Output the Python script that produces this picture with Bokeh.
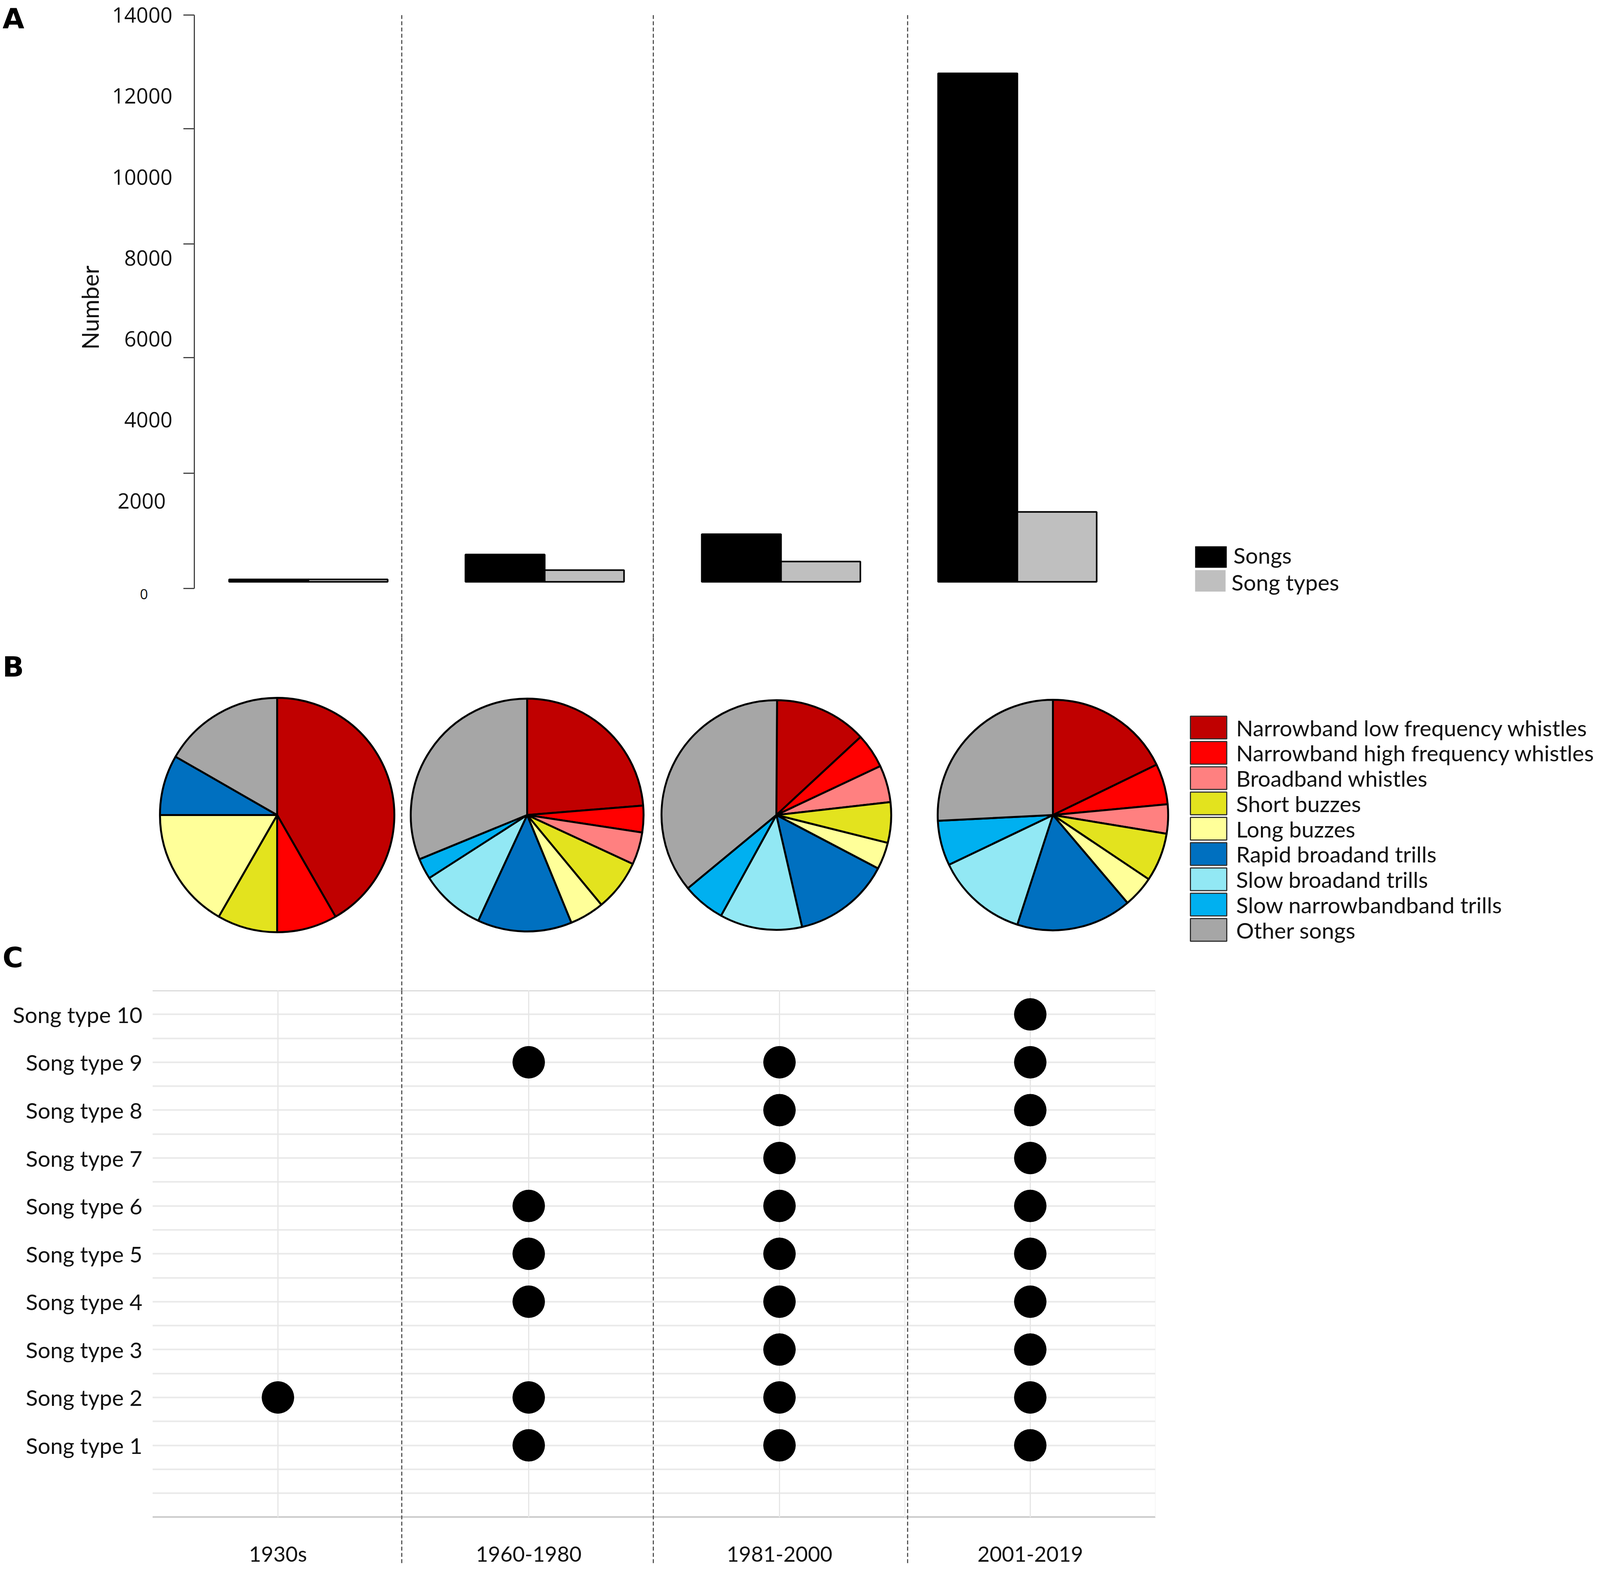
"""
Song types through time: counts (A), song classes (B) and occurrence of song types (C).
"""

from math import pi

from bokeh.core.properties import value
from bokeh.embed import file_html
from bokeh.layouts import column, row
from bokeh.models import ColumnDataSource, FactorRange, FixedTicker, Label, Range1d, Span
from bokeh.plotting import figure
from bokeh.resources import INLINE

PERIODS = ["1930s", "1960-1980", "1981-2000", "2001-2019"]

# panel A
SONG_COUNTS = [60, 675, 1177, 12560]
SONG_TYPE_COUNTS = [60, 290, 502, 1727]
NUMBER_LABELS = [2000, 4000, 6000, 8000, 10000, 12000, 14000]
NUMBER_TICK_MARKS = [-164, 2682, 5538, 8346, 11193, 14000]

# panel B, percent of each class per period
CLASS_NAMES = [
    "Narrowband low frequency whistles",
    "Narrowband high frequency whistles",
    "Broadband whistles",
    "Short buzzes",
    "Long buzzes",
    "Rapid broadand trills",
    "Slow broadand trills",
    "Slow narrowbandband trills",
    "Other songs",
]
CLASS_COLORS = ["#c00000", "#ff0000", "#ff8080", "#e3e31e", "#ffff99",
                "#0070c0", "#92e8f4", "#00b0f0", "#a6a6a6"]
SHARES_1930S = [41.7, 8.3, 0, 8.3, 16.7, 8.3, 0, 0, 16.7]
SHARES_1960 = [23.7, 3.7, 4.5, 7.1, 4.8, 13.1, 9.0, 2.9, 31.2]
SHARES_1981 = [13.1, 4.9, 5.2, 5.7, 3.8, 13.7, 11.6, 6.0, 36.1]
SHARES_2001 = [17.8, 5.7, 4.1, 6.8, 4.4, 16.2, 12.9, 6.3, 25.8]

# panel C, which song types were recorded in each period
SONG_TYPES = [f"Song type {i}" for i in range(1, 11)]
TYPES_1930S = [2]
TYPES_1960 = [1, 2, 4, 5, 6, 9]
TYPES_1981 = [1, 2, 3, 4, 5, 6, 7, 8, 9]
TYPES_2001 = [1, 2, 3, 4, 5, 6, 7, 8, 9, 10]

# layout, in pixels of the 4135x4032 picture
PAGE_MARGIN = 8
PAGE_WIDTH = 4135 - 2 * PAGE_MARGIN
SEPARATORS = [1036, 1680, 2331]
A_LABELS_RIGHT, A_LEFT, A_TOP, A_BOTTOM, A_BASE = 477, 505, 46, 1640, 1497
A_GROUP_0, A_GROUP_STEP = 797, 605
A_PX_PER_UNIT = (A_BASE - A_TOP) / 14000
B_BOTTOM = 2543
PIE_X = [717, 1357, 1995, 2703]
PIE_Y = 2094
PIE_R = [300, 298, 294, 295]
KEY_B_LEFT, KEY_B_RIGHT, KEY_B_TEXT = 3055, 3148, 3172
KEY_B_FIRST_ROW, KEY_B_PITCH, KEY_B_HEIGHT = 1870, 64.75, 58
C_LEFT, C_RIGHT, C_BOTTOM = 398, 2966, 4014
C_STEP = (C_RIGHT - C_LEFT) / len(PERIODS)

TEXT_COLOR = "#111111"
TEXT_FONT = "Lato"
NUMBER_FONT = "Open Sans"
DASH_COLOR = "#555555"
KEY_FONT_SIZE = "57px"


def separators(p, positions):
    for x in positions:
        p.add_layout(Span(location=x, dimension="height", line_color=DASH_COLOR,
                          line_width=3, line_dash="10 6"))


def panel_letter(p, letter, x, y):
    p.add_layout(Label(x=x, y=y, text=letter, text_font="DejaVu Sans", text_font_style="bold",
                       text_font_size="72px", text_color="black", text_align="left",
                       text_baseline="middle"))


def a_x(px):
    return (px - A_GROUP_0) / A_GROUP_STEP


def a_y(px):
    return (A_BASE - px) / A_PX_PER_UNIT


# --- panel A, strip left of the axis: its number labels, title and letter ---
pl = figure(width=A_LABELS_RIGHT - PAGE_MARGIN, height=A_BOTTOM - PAGE_MARGIN, output_backend="svg",
            toolbar_location=None, x_axis_location=None, y_axis_location=None, frame_align=False,
            x_range=Range1d(PAGE_MARGIN, A_LABELS_RIGHT),
            y_range=Range1d(a_y(A_BOTTOM), a_y(PAGE_MARGIN)),
            min_border_left=0, min_border_right=0, min_border_top=0, min_border_bottom=0)
pl.grid.visible = False
pl.outline_line_color = None
for v in NUMBER_LABELS:
    # the 2000 sits a little left of the others in the original
    right_edge = 432 if v == 2000 else 449
    pl.add_layout(Label(x=right_edge, y=v, text=str(v), text_font=NUMBER_FONT,
                        text_font_size="54px", text_color=TEXT_COLOR, text_align="right",
                        text_baseline="middle"))
pl.add_layout(Label(x=376, y=a_y(1528), text="0", text_font=NUMBER_FONT,
                    text_font_size="36px", text_color=TEXT_COLOR, text_align="center",
                    text_baseline="middle"))
pl.add_layout(Label(x=237, y=a_y(795), text="Number", text_font=TEXT_FONT, angle=pi / 2,
                    text_font_size="60px", text_color=TEXT_COLOR, text_align="center",
                    text_baseline="middle"))
panel_letter(pl, "A", 14, a_y(54))

# --- panel A, bars ---
pa = figure(width=PAGE_MARGIN + PAGE_WIDTH - A_LABELS_RIGHT, height=A_BOTTOM - PAGE_MARGIN,
            output_backend="svg", toolbar_location=None, x_axis_location=None, frame_align=False,
            x_range=Range1d(a_x(A_LEFT), a_x(PAGE_MARGIN + PAGE_WIDTH)),
            y_range=Range1d(a_y(A_BOTTOM), 14000),
            min_border_left=A_LEFT - A_LABELS_RIGHT, min_border_right=0,
            min_border_top=A_TOP - PAGE_MARGIN, min_border_bottom=0)
pa.grid.visible = False
pa.outline_line_color = None

bar_width = 203 / A_GROUP_STEP
groups = list(range(len(PERIODS)))
pa.vbar(x=[g - bar_width / 2 for g in groups], top=SONG_COUNTS, bottom=0,
        width=bar_width, fill_color="black", line_color="black", line_width=4)
pa.vbar(x=[g + bar_width / 2 for g in groups], top=SONG_TYPE_COUNTS, bottom=0,
        width=bar_width, fill_color="#bfbfbf", line_color="black", line_width=4)

yaxis = pa.yaxis[0]
yaxis.ticker = FixedTicker(ticks=NUMBER_TICK_MARKS)
yaxis.bounds = (NUMBER_TICK_MARKS[0], NUMBER_TICK_MARKS[-1])
yaxis.major_label_overrides = {v: "" for v in NUMBER_TICK_MARKS}
yaxis.major_label_text_font_size = "0px"
yaxis.major_label_standoff = 0
yaxis.major_tick_in = 0
yaxis.major_tick_out = 28
yaxis.minor_tick_line_color = None
yaxis.major_tick_line_color = "#444444"
yaxis.major_tick_line_width = 3
yaxis.axis_line_color = "#444444"
yaxis.axis_line_width = 3

# key of panel A
pa.quad(left=[a_x(3067)] * 2, right=[a_x(3148), a_x(3145)],
        top=[a_y(1406), a_y(1467)], bottom=[a_y(1461), a_y(1522)],
        fill_color=["black", "#bfbfbf"], line_color=None)
pa.text(x=[a_x(3165), a_x(3160)], y=[a_y(1428), a_y(1497)], text=["Songs", "Song types"],
        text_font=value(TEXT_FONT), text_font_size=KEY_FONT_SIZE, text_color=TEXT_COLOR,
        text_baseline="middle")
separators(pa, [a_x(x) for x in SEPARATORS])

# --- panel B ---
pb = figure(width=PAGE_WIDTH, height=B_BOTTOM - A_BOTTOM, output_backend="svg",
            toolbar_location=None, x_axis_location=None, y_axis_location=None, frame_align=False,
            x_range=Range1d(PAGE_MARGIN, PAGE_MARGIN + PAGE_WIDTH),
            y_range=Range1d(0, B_BOTTOM - A_BOTTOM),
            min_border_left=0, min_border_right=0, min_border_top=0, min_border_bottom=0)
pb.grid.visible = False
pb.outline_line_color = None

all_shares = [SHARES_1930S, SHARES_1960, SHARES_1981, SHARES_2001]
angle_start = [pi / 2] * len(all_shares)
for k, name in enumerate(CLASS_NAMES):
    shares = [s[k] for s in all_shares]
    angle_end = [a - v / 100 * 2 * pi for a, v in zip(angle_start, shares)]
    # a slice of nothing would be drawn as a whole circle
    keep = [i for i, v in enumerate(shares) if v > 0]
    source = ColumnDataSource(data={
        "x": [PIE_X[i] for i in keep],
        "y": [B_BOTTOM - PIE_Y] * len(keep),
        "r": [PIE_R[i] for i in keep],
        "start": [angle_start[i] for i in keep],
        "end": [angle_end[i] for i in keep],
    })
    pb.wedge("x", "y", radius="r", start_angle="start", end_angle="end", direction="clock",
             source=source, fill_color=CLASS_COLORS[k], line_color="black", line_width=5)
    angle_start = angle_end

# key of panel B
key_rows = [B_BOTTOM - (KEY_B_FIRST_ROW + i * KEY_B_PITCH) for i in range(len(CLASS_NAMES))]
pb.quad(left=[KEY_B_LEFT] * len(key_rows), right=[KEY_B_RIGHT] * len(key_rows),
        top=[y + KEY_B_HEIGHT / 2 for y in key_rows], bottom=[y - KEY_B_HEIGHT / 2 for y in key_rows],
        fill_color=CLASS_COLORS, line_color="#333333", line_width=3)
pb.text(x=[KEY_B_TEXT] * len(key_rows), y=key_rows, text=CLASS_NAMES,
        text_font=value(TEXT_FONT), text_font_size=KEY_FONT_SIZE, text_color=TEXT_COLOR,
        text_baseline="middle")
separators(pb, SEPARATORS)
panel_letter(pb, "B", 14, B_BOTTOM - 1714)
panel_letter(pb, "C", 14, B_BOTTOM - 2458)

# --- panel C ---
y_factors = [" ", "  "] + SONG_TYPES
pc = figure(width=C_RIGHT - PAGE_MARGIN, height=4032 - 2 * PAGE_MARGIN - (B_BOTTOM - PAGE_MARGIN),
            output_backend="svg", toolbar_location=None, frame_align=False,
            x_range=FactorRange(factors=PERIODS), y_range=FactorRange(factors=y_factors),
            min_border_left=C_LEFT - PAGE_MARGIN, min_border_right=0, min_border_top=0,
            min_border_bottom=10)
pc.grid.visible = False
pc.outline_line_color = None

# row boundaries and row centres, from the foot of the table up to its top
table_foot = 1
table_top = len(y_factors)
rules = [table_foot + i / 2 for i in range(1, 2 * (table_top - table_foot))]
pc.hspan(y=rules, line_color="#e9e9e9", line_width=4)
pc.hspan(y=[table_foot, table_top], line_color="#c9c9c9", line_width=4)
pc.segment(x0=PERIODS, x1=PERIODS, y0=[table_foot] * len(PERIODS), y1=[table_top] * len(PERIODS),
           line_color="#e6e6e6", line_width=3)
pc.segment(x0=[3, 4], x1=[3, 4], y0=[table_foot] * 2, y1=[table_top] * 2,
           line_color="#eeeeee", line_width=3)

occurrence = [TYPES_1930S, TYPES_1960, TYPES_1981, TYPES_2001]
dot_x = [PERIODS[i] for i, found in enumerate(occurrence) for _ in found]
dot_y = [f"Song type {t}" for found in occurrence for t in found]
pc.scatter(dot_x, dot_y, size=82, marker="circle", color="black")

xaxis = pc.xaxis[0]
xaxis.axis_line_color = None
xaxis.major_tick_line_color = None
xaxis.minor_tick_line_color = None
xaxis.major_label_standoff = -68
xaxis.major_label_text_font = TEXT_FONT
xaxis.major_label_text_font_size = "54px"
xaxis.major_label_text_color = TEXT_COLOR

yaxis_c = pc.yaxis[0]
yaxis_c.axis_line_color = None
yaxis_c.major_tick_line_color = None
yaxis_c.minor_tick_line_color = None
yaxis_c.major_label_standoff = 20
yaxis_c.major_label_text_font = TEXT_FONT
yaxis_c.major_label_text_font_size = "57px"
yaxis_c.major_label_text_color = TEXT_COLOR

separators(pc, [(x - C_LEFT) / C_STEP for x in SEPARATORS])

page = column(row(pl, pa, spacing=0), pb, pc, spacing=0)
open("out.html", "w").write(file_html(page, INLINE))
